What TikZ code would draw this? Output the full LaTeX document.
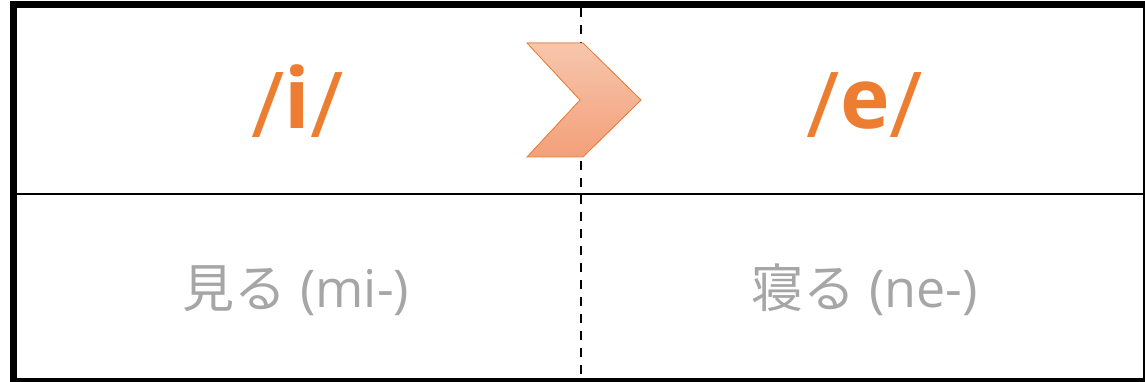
\documentclass[tikz,border=0pt]{standalone}
\usepackage{fontspec}
\setmainfont{Open Sans}
\newfontfamily\jpfont{Noto Sans CJK JP}
\usetikzlibrary{positioning}
\definecolor{accentorange}{HTML}{ED7D31}
\definecolor{labelgrey}{HTML}{A6A6A6}
\definecolor{chevtop}{RGB}{247,198,173}
\definecolor{chevbottom}{RGB}{243,160,121}
\newcommand{\phslash}{{\fontsize{91}{91}\selectfont\mdseries\raisebox{-9pt}{/}}}

\begin{document}
\begin{tikzpicture}[x=1pt, y=-1pt,
  vowel/.style={font=\fontsize{84}{84}\selectfont\bfseries, text=accentorange,
    inner sep=0pt, anchor=base},
  verb/.style={font=\fontsize{52}{52}\selectfont, text=labelgrey,
    inner sep=0pt, anchor=base},
  frame/.style={line width=7pt},
  rule/.style={line width=2.5pt},
  divider/.style={line width=2.5pt, dash pattern=on 9pt off 8pt},
  chev/.style={draw=accentorange, line width=0.8pt,
    top color=chevtop, bottom color=chevbottom}
]
  \useasboundingbox (0,0) rectangle (1145,382);
  \clip (0,0) rectangle (1145,382);

  %% table frame and rows
  \draw[frame] (13.5,4.5) rectangle (1146.5,381.5);
  \draw[rule] (17,194) -- (1143,194);
  \draw[divider] (581,8) -- (581,378);

  %% vowel shift arrow
  \filldraw[chev] (527,43) -- (583,43) -- (641,100) -- (583,157)
    -- (527,157) -- (580,100) -- cycle;

  %% top row
  \node[vowel] (vowi) at (297.5,129) {\phslash i\phslash};
  \node[vowel] (vowe) at (865,129) {\phslash e\phslash};

  %% bottom row
  \node[verb] (miru) at (296,307) {{\jpfont 見る} (mi-)};
  \node[verb] (neru) at (865,307) {{\jpfont 寝る} (ne-)};
\end{tikzpicture}
\end{document}
